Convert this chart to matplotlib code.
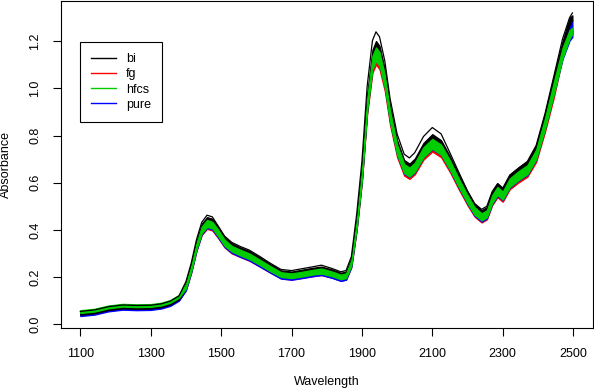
import matplotlib
matplotlib.use("Agg")
import matplotlib.pyplot as plt
from matplotlib.lines import Line2D

plt.rcParams['font.family'] = ['Liberation Sans', 'DejaVu Sans']

# wavelength grid (nm)
wavelength = [1100, 1140, 1180, 1220, 1260, 1300, 1330, 1355, 1380, 1400,
              1415, 1430, 1445, 1460, 1475, 1490, 1510, 1530, 1555, 1580,
              1610, 1640, 1670, 1700, 1730, 1760, 1785, 1815, 1840, 1855,
              1870, 1885, 1900, 1915, 1930, 1940, 1950, 1965, 1980, 2000,
              2020, 2035, 2050, 2075, 2100, 2125, 2150, 2175, 2200, 2220,
              2240, 2255, 2270, 2285, 2300, 2320, 2345, 2370, 2395, 2420,
              2445, 2470, 2490, 2498]

# band edges, one pair per group
hfcs_hi = [.059, .065, .079, .086, .084, .085, .091, .102, .124, .169,
           .246, .343, .414, .442, .434, .404, .358, .332, .315, .300,
           .273, .246, .220, .215, .222, .230, .236, .223, .210, .215,
           .271, .434, .649, .955, 1.138, 1.174, 1.154, 1.057, .904, .761,
           .679, .664, .684, .751, .786, .761, .695, .618, .547, .496,
           .470, .483, .547, .582, .562, .618, .649, .674, .740, .873,
           1.026, 1.172, 1.248, 1.258]
hfcs_lo = [.047, .053, .067, .074, .072, .073, .079, .090, .112, .151,
           .224, .317, .386, .412, .406, .376, .332, .308, .291, .276,
           .251, .224, .200, .195, .202, .210, .214, .203, .190, .195,
           .249, .406, .611, .905, 1.082, 1.116, 1.096, 1.003, .856, .719,
           .641, .626, .646, .709, .744, .719, .655, .582, .513, .464,
           .440, .453, .513, .548, .528, .582, .611, .636, .700, .827,
           .974, 1.128, 1.212, 1.232]

bi_hi = [.054, .060, .074, .081, .079, .080, .086, .097, .119, .176,
         .254, .353, .426, .454, .447, .416, .369, .343, .325, .310,
         .283, .254, .228, .223, .231, .239, .244, .232, .218, .223,
         .280, .447, .665, .977, 1.164, 1.201, 1.180, 1.081, .925, .780,
         .696, .681, .702, .769, .806, .780, .712, .634, .561, .509,
         .483, .497, .561, .598, .577, .634, .665, .691, .759, .894,
         1.050, 1.200, 1.300, 1.310]
bi_lo = [.040, .046, .060, .067, .065, .066, .072, .083, .105, .153,
         .226, .320, .389, .416, .409, .379, .335, .310, .293, .279,
         .253, .226, .202, .197, .204, .212, .217, .205, .192, .197,
         .251, .409, .616, .911, 1.088, 1.123, 1.103, 1.010, .862, .724,
         .645, .630, .650, .714, .749, .724, .660, .586, .517, .468,
         .443, .456, .517, .552, .532, .586, .616, .640, .704, .832,
         .980, 1.170, 1.270, 1.290]
bi_top = [.054, .060, .074, .081, .079, .080, .086, .097, .119, .180,
          .258, .358, .432, .462, .455, .420, .373, .347, .329, .314,
          .287, .258, .232, .227, .235, .243, .250, .236, .222, .227,
          .286, .464, .689, 1.010, 1.203, 1.240, 1.219, 1.117, .957, .807,
          .721, .705, .727, .796, .834, .807, .727, .645, .565, .512,
          .487, .500, .562, .595, .577, .632, .662, .690, .758, .892,
          1.050, 1.210, 1.300, 1.320]

pure_hi = [.052, .058, .072, .080, .078, .079, .085, .096, .119, .166,
           .243, .342, .414, .442, .435, .404, .357, .331, .314, .298,
           .271, .243, .217, .212, .219, .228, .233, .220, .207, .212,
           .269, .435, .652, .963, 1.149, 1.185, 1.164, 1.066, .911, .766,
           .683, .668, .688, .756, .792, .766, .699, .621, .549, .497,
           .471, .484, .549, .585, .564, .621, .652, .678, .745, .880,
           1.035, 1.190, 1.273, 1.289]
pure_lo = [.034, .040, .054, .061, .059, .060, .066, .077, .099, .143,
           .218, .312, .381, .408, .401, .371, .327, .302, .285, .270,
           .244, .218, .193, .188, .195, .203, .208, .196, .183, .188,
           .242, .401, .609, .906, 1.084, 1.119, 1.099, 1.005, .856, .718,
           .638, .624, .643, .708, .742, .718, .653, .579, .510, .460,
           .435, .448, .510, .544, .525, .579, .609, .633, .698, .827,
           .975, 1.124, 1.203, 1.218]

fg_hi = [.050, .056, .070, .077, .075, .076, .082, .093, .115, .160,
         .235, .330, .400, .427, .420, .390, .345, .320, .303, .288,
         .262, .235, .210, .205, .212, .220, .225, .213, .200, .205,
         .260, .420, .630, .930, 1.110, 1.145, 1.125, 1.030, .880, .740,
         .660, .645, .665, .730, .765, .740, .675, .600, .530, .480,
         .455, .468, .530, .565, .545, .600, .630, .655, .720, .850,
         1.000, 1.150, 1.230, 1.245]
fg_lo = [.039, .044, .058, .065, .063, .064, .070, .080, .102, .145,
         .218, .310, .378, .404, .397, .368, .325, .300, .284, .269,
         .244, .218, .194, .189, .196, .203, .208, .197, .184, .189,
         .242, .397, .601, .892, 1.067, 1.101, 1.081, .989, .844, .708,
         .630, .616, .635, .698, .732, .708, .645, .572, .504, .456,
         .431, .444, .504, .538, .519, .572, .601, .625, .688, .815,
         .960, 1.130, 1.215, 1.232]

groups = ['bi', 'fg', 'hfcs', 'pure']
colors = {'bi': '#000000', 'fg': '#FF0000', 'hfcs': '#00CD00', 'pure': '#0000FF'}

fig = plt.figure(figsize=(5.94, 3.92), dpi=100)
ax = fig.add_axes([0.102, 0.163, 0.896, 0.834])

# drawing order as in the picture: red, blue, black, green on top
bands = [('fg', fg_lo, fg_hi), ('pure', pure_lo, pure_hi),
         ('bi', bi_lo, bi_hi), ('hfcs', hfcs_lo, hfcs_hi)]
for name, lo, hi in bands:
    ax.fill_between(wavelength, lo, hi, color=colors[name], lw=0.9,
                    edgecolor=colors[name])
    if name == 'bi':
        ax.plot(wavelength, bi_top, color=colors['bi'], lw=0.9)

ax.set_xlim(1044, 2556)
ax.set_ylim(-0.017, 1.370)
ax.set_xticks(range(1100, 2501, 200))
ax.set_yticks([0.0, 0.2, 0.4, 0.6, 0.8, 1.0, 1.2])
ax.set_yticklabels(['0.0', '0.2', '0.4', '0.6', '0.8', '1.0', '1.2'],
                   rotation=90, va='center')
ax.tick_params(length=6, width=0.8, pad=8, labelsize=9, color='black')
for s in ax.spines.values():
    s.set_linewidth(0.8)

ax.set_xlabel('Wavelength', fontsize=9)
ax.set_ylabel('Absorbance', fontsize=9)
ax.xaxis.set_label_coords(0.5, -0.145)
ax.yaxis.set_label_coords(-0.092, 0.5)

handles = [Line2D([], [], color=colors[g], lw=1) for g in groups]
leg = ax.legend(handles, groups, loc='upper left', bbox_to_anchor=(0.036, 0.875),
                frameon=True, fancybox=False, framealpha=1, edgecolor='black',
                fontsize=9, handlelength=2.0, handletextpad=0.8,
                borderpad=0.9, labelspacing=0.25, borderaxespad=0)
leg.get_frame().set_linewidth(0.8)

fig.savefig('out.png', dpi=100)
